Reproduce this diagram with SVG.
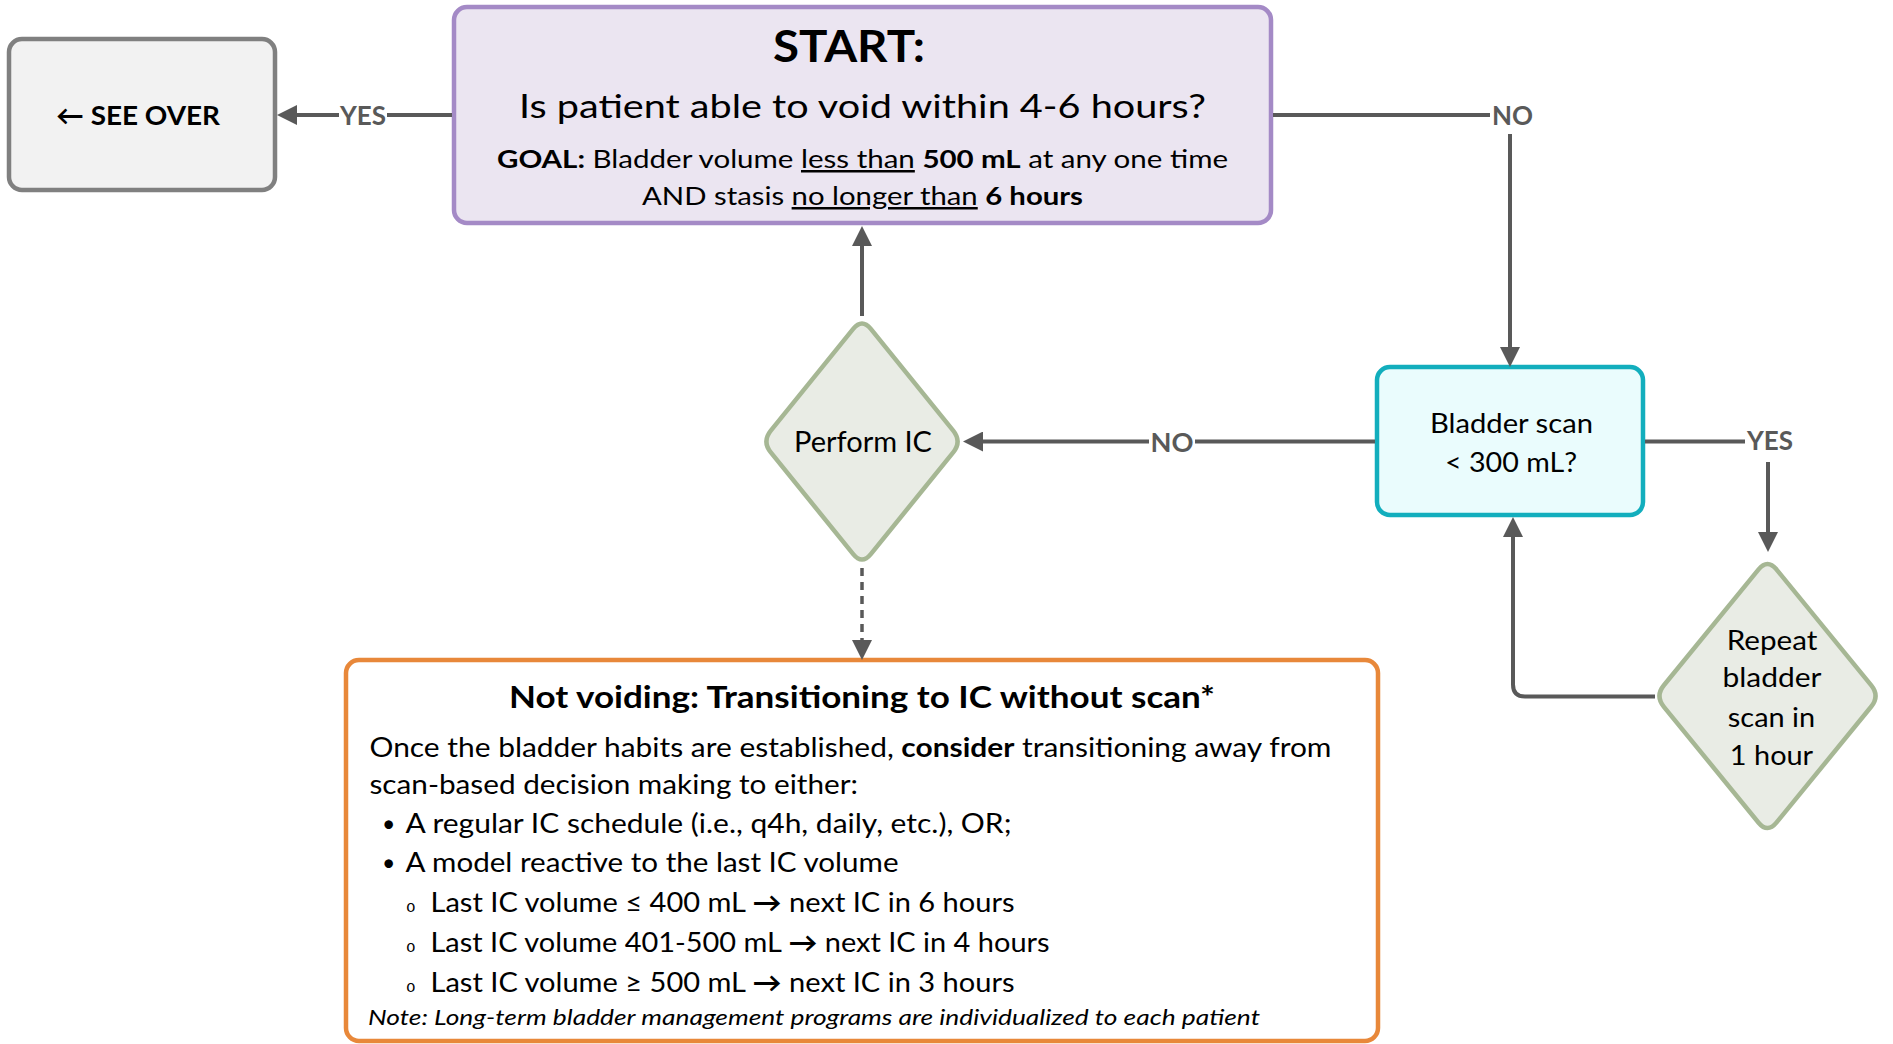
<svg xmlns="http://www.w3.org/2000/svg" width="1893" height="1044" viewBox="0 0 1893 1044">
  <style>
    text { font-family: Lato, "Open Sans", "Liberation Sans", sans-serif; fill: #000; }
    .c { text-anchor: middle; }
    .b { font-weight: 700; }
    .u { text-decoration: underline; }
    .lbl { font-weight: 700; fill: #595959; font-size: 27px; text-anchor: middle; }
    .bg { fill: #fff; }
    .ln { fill: none; stroke: #595959; stroke-width: 4; marker-end: url(#ah); }
    .dash { stroke-width: 3.5; stroke-dasharray: 8 6; }
    .gray { fill: #f2f2f2; stroke: #808080; stroke-width: 4.5; }
    .purple { fill: #ebe5f1; stroke: #a48ac6; stroke-width: 4.5; }
    .teal { fill: #eafcfd; stroke: #12aebd; stroke-width: 4.5; }
    .dia { fill: #e9ece5; stroke: #a6b794; stroke-width: 4.5; stroke-linejoin: round; }
    .orange { fill: #fff; stroke: #e8883a; stroke-width: 4.5; }
    .sub { font-family: "Liberation Mono", monospace; font-size: 16px; }
    .dot { font-size: 23px; }
  </style>
  <defs>
    <marker id="ah" markerUnits="userSpaceOnUse" markerWidth="20" markerHeight="20" refX="14" refY="10" orient="auto">
      <path d="M0,0 L20,10 L0,20 Z" fill="#595959"/>
    </marker>
  </defs>

  <g id="node-see-over">
    <rect class="gray" x="9" y="39" width="266" height="151" rx="13"/>
    <text class="c b" x="138" y="125" font-size="27" textLength="164" lengthAdjust="spacingAndGlyphs">← SEE OVER</text>
  </g>

  <g id="node-start">
    <rect class="purple" x="454" y="7" width="817" height="216" rx="13"/>
    <text class="c b" x="849" y="62" font-size="43" textLength="152" lengthAdjust="spacingAndGlyphs">START:</text>
    <text class="c" x="862.5" y="118" font-size="33" textLength="687" lengthAdjust="spacingAndGlyphs">Is patient able to void within 4-6 hours?</text>
    <text class="c" x="862.5" y="168" font-size="25" textLength="731" lengthAdjust="spacingAndGlyphs"><tspan class="b">GOAL:</tspan> Bladder volume <tspan class="u">less than</tspan> <tspan class="b">500 mL</tspan> at any one time</text>
    <text class="c" x="862.5" y="205" font-size="25" textLength="441" lengthAdjust="spacingAndGlyphs">AND stasis <tspan class="u">no longer than</tspan> <tspan class="b">6 hours</tspan></text>
  </g>

  <g id="node-perform-ic">
    <path class="dia" d="M870.8,328.9 L953.2,430.6 Q962,441.5 953.2,452.4 L870.8,554.1 Q862,565 853.2,554.1 L770.8,452.4 Q762,441.5 770.8,430.6 L853.2,328.9 Q862,318 870.8,328.9 Z"/>
    <text class="c" x="863" y="451.5" font-size="28" textLength="138" lengthAdjust="spacingAndGlyphs">Perform IC</text>
  </g>

  <g id="node-bladder-scan">
    <rect class="teal" x="1377" y="367" width="266" height="148" rx="13"/>
    <text class="c" x="1511.5" y="432.7" font-size="27" textLength="163" lengthAdjust="spacingAndGlyphs">Bladder scan</text>
    <text class="c" x="1511" y="471.7" font-size="27" textLength="132" lengthAdjust="spacingAndGlyphs">&lt; 300 mL?</text>
  </g>

  <g id="node-repeat-scan">
    <path class="dia" d="M1776.4,569.3 L1871.1,685.2 Q1880,696 1871.1,706.8 L1776.4,822.7 Q1767.5,833.5 1758.6,822.7 L1663.9,706.8 Q1655,696 1663.9,685.2 L1758.6,569.3 Q1767.5,558.5 1776.4,569.3 Z"/>
    <text class="c" x="1772" y="650" font-size="27" textLength="90.7" lengthAdjust="spacingAndGlyphs">Repeat</text>
    <text class="c" x="1772" y="687.3" font-size="27" textLength="99" lengthAdjust="spacingAndGlyphs">bladder</text>
    <text class="c" x="1771.5" y="726.7" font-size="27" textLength="87.3" lengthAdjust="spacingAndGlyphs">scan in</text>
    <text class="c" x="1771.5" y="765" font-size="27" textLength="83.3" lengthAdjust="spacingAndGlyphs">1 hour</text>
  </g>

  <g id="node-not-voiding">
    <rect class="orange" x="346" y="660" width="1032" height="381" rx="13"/>
    <text class="c b" x="862" y="708" font-size="30" textLength="706" lengthAdjust="spacingAndGlyphs">Not voiding: Transitioning to IC without scan*</text>
    <text x="369.5" y="756.7" font-size="27" textLength="962" lengthAdjust="spacingAndGlyphs">Once the bladder habits are established, <tspan class="b">consider</tspan> transitioning away from</text>
    <text x="369.5" y="794" font-size="27" textLength="488.5" lengthAdjust="spacingAndGlyphs">scan-based decision making to either:</text>
    <text class="dot" x="382" y="832">•</text>
    <text x="405.5" y="833" font-size="27" textLength="606" lengthAdjust="spacingAndGlyphs">A regular IC schedule (i.e., q4h, daily, etc.), OR;</text>
    <text class="dot" x="382" y="870.7">•</text>
    <text x="405.5" y="871.7" font-size="27" textLength="493" lengthAdjust="spacingAndGlyphs">A model reactive to the last IC volume</text>
    <text class="sub" x="406" y="911.7">o</text>
    <text x="430.5" y="911.7" font-size="27" textLength="584" lengthAdjust="spacingAndGlyphs">Last IC volume ≤ 400 mL <tspan class="b">→</tspan> next IC in 6 hours</text>
    <text class="sub" x="406" y="951.7">o</text>
    <text x="430.5" y="951.7" font-size="27" textLength="619" lengthAdjust="spacingAndGlyphs">Last IC volume 401-500 mL <tspan class="b">→</tspan> next IC in 4 hours</text>
    <text class="sub" x="406" y="991.7">o</text>
    <text x="430.5" y="991.7" font-size="27" textLength="584" lengthAdjust="spacingAndGlyphs">Last IC volume ≥ 500 mL <tspan class="b">→</tspan> next IC in 3 hours</text>
    <text x="368" y="1025" font-size="21" font-style="italic" textLength="892" lengthAdjust="spacingAndGlyphs">Note: Long-term bladder management programs are individualized to each patient</text>
  </g>

  <g id="connectors">
    <path class="ln" d="M452,115 H283"/>
    <path class="ln" d="M1273,115 H1510 V361"/>
    <path class="ln" d="M862,316 V232"/>
    <path class="ln dash" d="M862,568 V654"/>
    <path class="ln" d="M1375,441.5 H969"/>
    <path class="ln" d="M1645,441.5 H1768 V546"/>
    <path class="ln" d="M1655,696.5 H1525 Q1513,696.5 1513,684.5 V523"/>
    <g id="label-yes-left">
      <rect class="bg" x="339" y="100" width="48" height="30"/>
      <text class="lbl" x="363" y="125" textLength="46" lengthAdjust="spacingAndGlyphs">YES</text>
    </g>
    <g id="label-no-top">
      <rect class="bg" x="1490" y="100" width="45" height="34"/>
      <text class="lbl" x="1512.5" y="125" textLength="41" lengthAdjust="spacingAndGlyphs">NO</text>
    </g>
    <g id="label-no-mid">
      <rect class="bg" x="1149" y="428" width="46" height="28"/>
      <text class="lbl" x="1172" y="452" textLength="43" lengthAdjust="spacingAndGlyphs">NO</text>
    </g>
    <g id="label-yes-right">
      <rect class="bg" x="1745" y="425" width="50" height="37"/>
      <text class="lbl" x="1770" y="450" textLength="46" lengthAdjust="spacingAndGlyphs">YES</text>
    </g>
  </g>
</svg>
